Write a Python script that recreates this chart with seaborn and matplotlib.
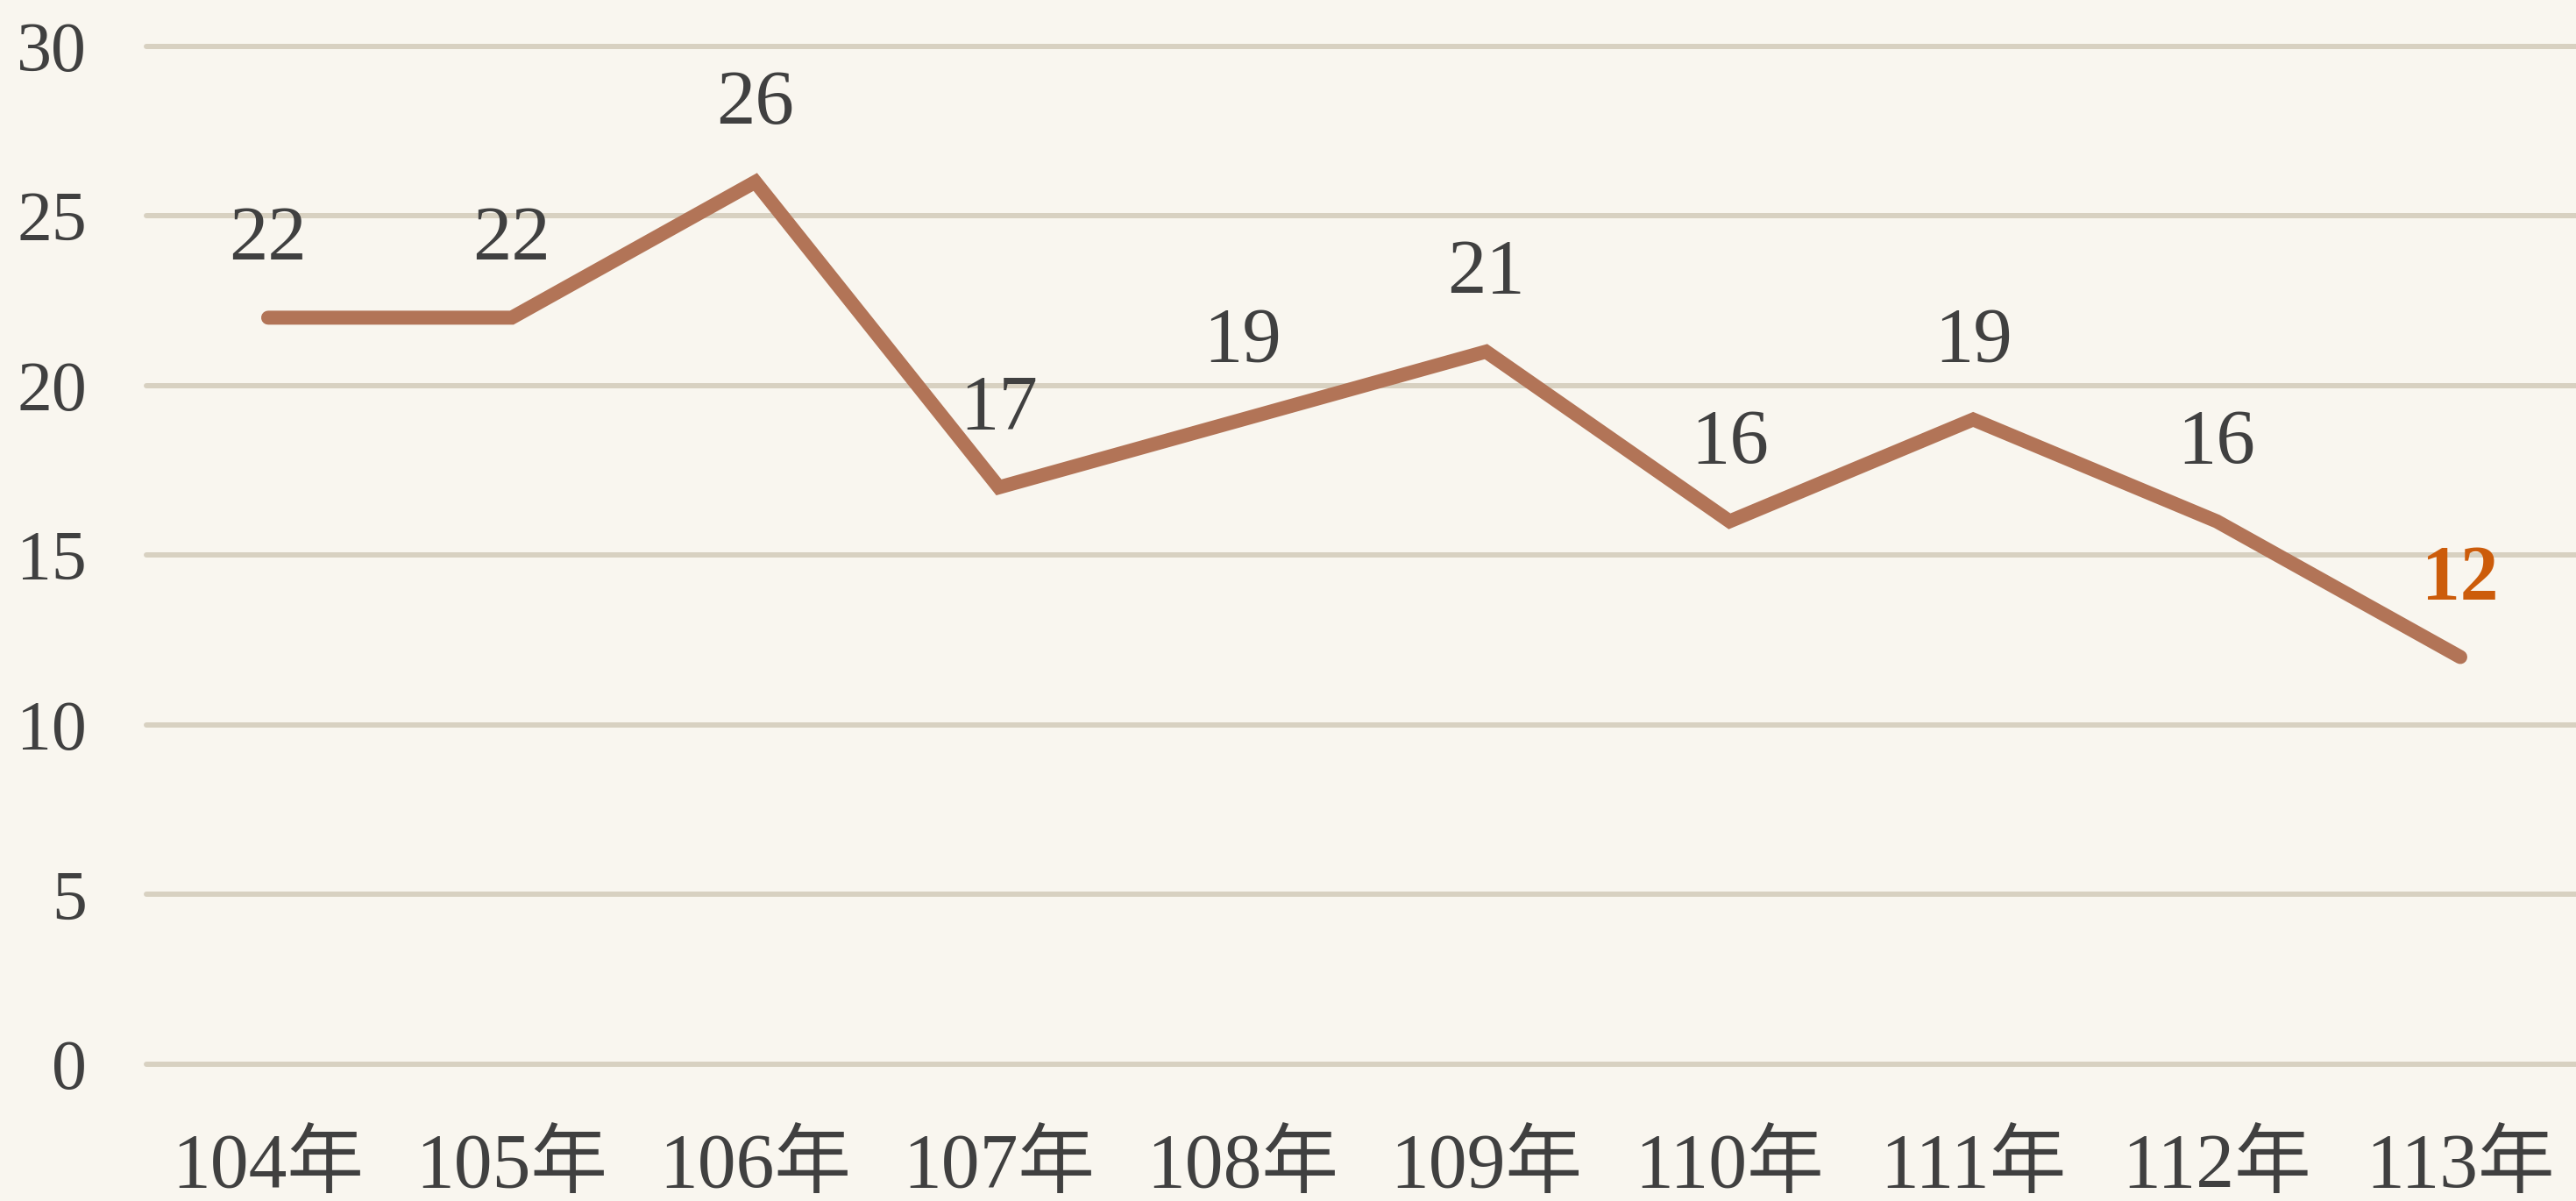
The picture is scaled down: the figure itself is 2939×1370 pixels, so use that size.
import matplotlib
matplotlib.use("Agg")
import matplotlib.pyplot as plt
import seaborn as sns
import pandas as pd

years = ["104年", "105年", "106年", "107年", "108年", "109年", "110年", "111年", "112年", "113年"]
values = [22, 22, 26, 17, 19, 21, 16, 19, 16, 12]
yticks = [0, 5, 10, 15, 20, 25, 30]

BG = "#f9f6ef"
GRID = "#d8d1c1"
LINE = "#b27457"
TEXT = "#404040"
HILITE = "#cc5c0b"

sns.set_theme(style="white")
plt.rcParams["font.family"] = ["Liberation Serif", "Noto Sans CJK TC"]

df = pd.DataFrame({"year": years, "value": values})

fig = plt.figure(figsize=(29.39, 13.70), dpi=100, facecolor=BG)
ax = fig.add_axes([167 / 2939, 1 - 1214 / 1370, 1 - 167 / 2939, (1214 - 52.7) / 1370])
ax.set_facecolor(BG)

sns.lineplot(data=df, x="year", y="value", ax=ax, color=LINE, linewidth=11.5,
             sort=False, solid_capstyle="round", solid_joinstyle="miter", zorder=3)

ax.set_ylim(0, 30)
ax.set_xlim(-0.5, 9.475)
ax.set_yticks(yticks)
ax.set_xticks(range(len(years)))
ax.set_xticklabels(years)
ax.set_xlabel("")
ax.set_ylabel("")

ax.grid(False)
ax.yaxis.grid(True, color=GRID, linewidth=4.3)
for gl in ax.get_ygridlines():
    gl.set_clip_on(False)
ax.set_axisbelow(True)
for s in ax.spines.values():
    s.set_visible(False)

ax.tick_params(axis="y", length=0, pad=49, labelsize=57.5, labelcolor=TEXT)
ax.tick_params(axis="x", length=0, pad=56, labelsize=63, labelcolor=TEXT)

last = len(values) - 1
for i, v in enumerate(values):
    if i == last:
        ax.annotate(str(v), (i, v), xytext=(0, 48), textcoords="offset points",
                    ha="center", va="baseline", fontsize=63, color=HILITE,
                    fontweight="bold")
    else:
        ax.annotate(str(v), (i, v), xytext=(0, 48), textcoords="offset points",
                    ha="center", va="baseline", fontsize=64, color=TEXT)

fig.savefig("out.png", dpi=100, facecolor=BG)
